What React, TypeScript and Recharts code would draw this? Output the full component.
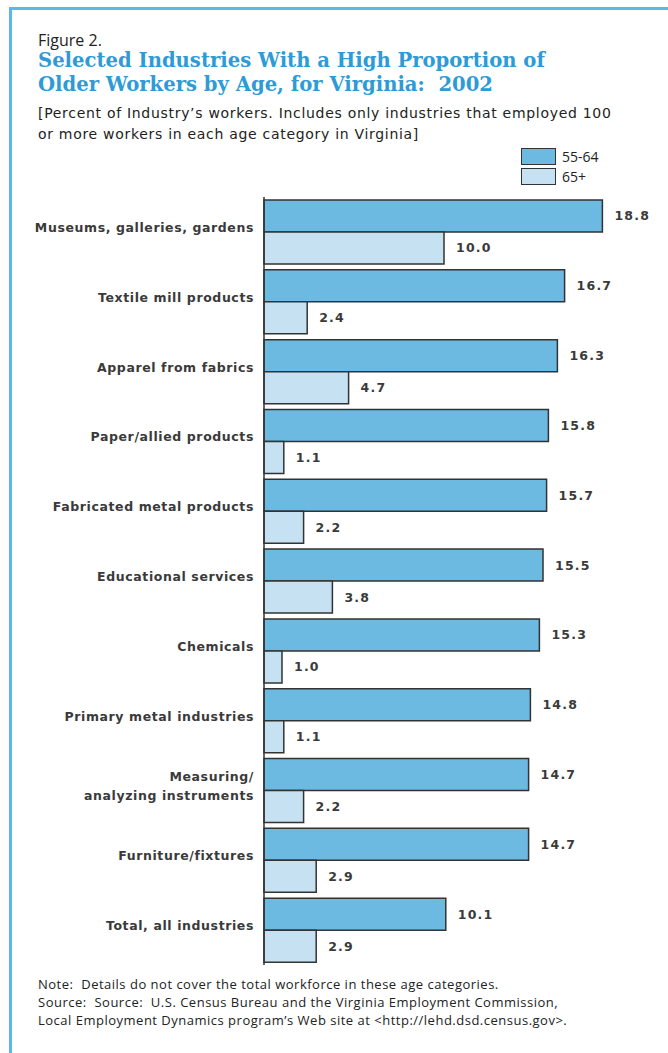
import React from 'react'
import { BarChart, Bar, XAxis, YAxis, LabelList } from 'recharts'

const industries = [
  'Museums, galleries, gardens',
  'Textile mill products',
  'Apparel from fabrics',
  'Paper/allied products',
  'Fabricated metal products',
  'Educational services',
  'Chemicals',
  'Primary metal industries',
  'Measuring/\nanalyzing instruments',
  'Furniture/fixtures',
  'Total, all industries',
]
const age55to64 = [18.8, 16.7, 16.3, 15.8, 15.7, 15.5, 15.3, 14.8, 14.7, 14.7, 10.1]
const age65plus = [10.0, 2.4, 4.7, 1.1, 2.2, 3.8, 1.0, 1.1, 2.2, 2.9, 2.9]

const DARK = '#333333'
const TEXT = '#3a3a3a'
const BLUE = '#6cb9e1'
const LIGHT = '#c5e1f2'
const FRAME = '#5bb9e6'
const FONT = '"DejaVu Sans", sans-serif'

const data = industries.map((name, i) => ({
  name,
  a: age55to64[i],
  b: age65plus[i],
}))

function CategoryTick({ x, y, payload }: any) {
  const lines = String(payload.value).split('\n')
  const start = -4 - ((lines.length - 1) * 19) / 2
  return (
    <text
      x={x}
      y={y}
      textAnchor="end"
      fill={TEXT}
      fontFamily={FONT}
      fontWeight="bold"
      fontSize={12.5}
      letterSpacing={0.6}
    >
      {lines.map((l, i) => (
        <tspan key={i} x={x} dy={i === 0 ? start + 4 : 19}>
          {l}
        </tspan>
      ))}
    </text>
  )
}

const fmt = (v: any) => Number(v).toFixed(1)

export default function App() {
  return (
    <div
      style={{
        position: 'absolute',
        left: 0,
        top: 0,
        width: 668,
        height: 1053,
        overflow: 'hidden',
        background: '#fff',
        fontFamily: '"Open Sans", sans-serif',
      }}
    >
      {/* frame: only top and left edges are in view */}
      <div style={{ position: 'absolute', left: 9, top: 7, width: 659, height: 3, background: FRAME }} />
      <div style={{ position: 'absolute', left: 9, top: 7, width: 3, height: 1046, background: FRAME }} />

      <div style={{ position: 'absolute', left: 38, top: 29, fontSize: 16, color: '#222' }}>Figure 2.</div>
      <div
        style={{
          position: 'absolute',
          left: 38,
          top: 49,
          fontFamily: '"DejaVu Serif", serif',
          fontWeight: 'bold',
          fontSize: 19.6,
          lineHeight: '24px',
          color: '#2e9bd6',
          whiteSpace: 'nowrap',
        }}
      >
        Selected Industries With a High Proportion of
        <br />
        Older Workers by Age, for Virginia:&nbsp; 2002
      </div>
      <div
        style={{
          position: 'absolute',
          left: 38,
          top: 103,
          fontFamily: FONT,
          fontSize: 14,
          letterSpacing: 0.7,
          lineHeight: '21px',
          color: '#222',
          whiteSpace: 'nowrap',
        }}
      >
        [Percent of Industry’s workers. Includes only industries that employed 100
        <br />
        or more workers in each age category in Virginia]
      </div>
      {[
        { label: '55-64', color: BLUE, top: 147 },
        { label: '65+', color: LIGHT, top: 167 },
      ].map((it) => (
        <div key={it.label} style={{ position: 'absolute', left: 521, top: it.top, display: 'flex', alignItems: 'center' }}>
          <div style={{ width: 33, height: 15, background: it.color, border: `1.5px solid ${DARK}` }} />
          <span style={{ marginLeft: 6, fontSize: 14, color: '#222' }}>{it.label}</span>
        </div>
      ))}
      <div style={{ position: 'absolute', left: 0, top: 0 }}>
        <BarChart
          width={668}
          height={1053}
          data={data}
          layout="vertical"
          margin={{ top: 197, right: 44, bottom: 88, left: 0 }}
          barCategoryGap={3}
          barGap={0}
        >
          <XAxis type="number" domain={[0, 20]} hide />
          <YAxis
            type="category"
            dataKey="name"
            width={264}
            tickLine={false}
            tickSize={0}
            tickMargin={10}
            axisLine={{ stroke: DARK, strokeWidth: 1.5 }}
            tick={<CategoryTick />}
            interval={0}
          />
          <Bar dataKey="a" fill={BLUE} stroke={DARK} strokeWidth={1.5} isAnimationActive={false}>
            <LabelList
              dataKey="a"
              position="right"
              offset={12}
              formatter={fmt}
              fill={TEXT}
              fontFamily={FONT}
              fontWeight="bold"
              fontSize={12.5}
              letterSpacing={1.2}
            />
          </Bar>
          <Bar dataKey="b" fill={LIGHT} stroke={DARK} strokeWidth={1.5} isAnimationActive={false}>
            <LabelList
              dataKey="b"
              position="right"
              offset={12}
              formatter={fmt}
              fill={TEXT}
              fontFamily={FONT}
              fontWeight="bold"
              fontSize={12.5}
              letterSpacing={1.2}
            />
          </Bar>
        </BarChart>
      </div>
      <div
        style={{
          position: 'absolute',
          left: 38,
          top: 975,
          fontSize: 13,
          letterSpacing: 0.5,
          lineHeight: '18px',
          color: '#222',
          whiteSpace: 'nowrap',
        }}
      >
        Note:&nbsp; Details do not cover the total workforce in these age categories.
        <br />
        Source:&nbsp; Source:&nbsp; U.S. Census Bureau and the Virginia Employment Commission,
        <br />
        Local Employment Dynamics program’s Web site at &lt;http://lehd.dsd.census.gov&gt;.
      </div>
    </div>
  )
}
